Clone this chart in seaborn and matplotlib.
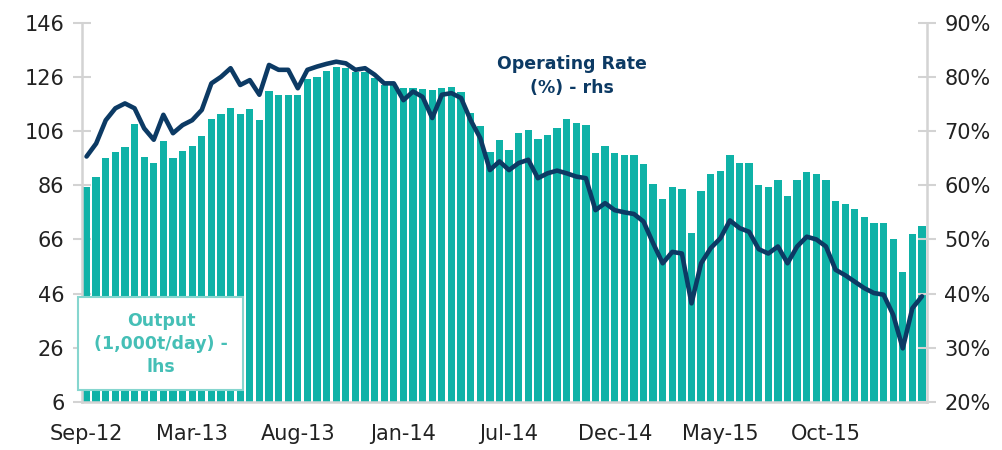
import pandas as pd
import numpy as np
import matplotlib
matplotlib.use('Agg')
import matplotlib.pyplot as plt
import seaborn as sns

# output, 1,000t/day (lhs) - 88 periods from Sep-12
output = [85.5, 89.0, 96.1, 98.4, 100.0, 108.6, 96.6, 94.3, 102.5, 96.1,
          98.7, 100.5, 104.2, 110.5, 112.3, 114.4, 112.3, 114.0, 110.1, 120.9,
          119.3, 119.3, 119.3, 125.2, 125.8, 128.3, 129.8, 129.2, 127.9, 127.9,
          125.5, 123.0, 123.0, 121.8, 121.8, 121.4, 121.0, 121.8, 122.2, 120.5,
          112.6, 107.9, 98.4, 102.7, 99.0, 105.2, 106.4, 103.0, 104.6, 107.0,
          110.3, 108.9, 108.3, 97.8, 100.6, 97.8, 97.2, 97.2, 93.9, 86.4,
          80.8, 85.3, 84.5, 68.3, 84.0, 90.2, 91.4, 97.2, 94.1, 94.1,
          86.2, 85.5, 88.0, 82.1, 88.0, 91.0, 90.2, 88.0, 80.2, 79.1,
          77.1, 74.2, 72.0, 72.0, 66.1, 54.1, 68.0, 71.0]

# operating rate, % (rhs)
rate = [65.3, 67.7, 72.0, 74.2, 75.1, 74.2, 70.5, 68.4, 73.0, 69.6,
        71.1, 72.0, 73.9, 78.8, 80.0, 81.6, 78.5, 79.4, 76.7, 82.2,
        81.3, 81.3, 77.9, 81.3, 81.9, 82.4, 82.8, 82.5, 81.3, 81.6,
        80.4, 78.8, 78.8, 75.7, 77.3, 76.3, 72.4, 76.7, 77.0, 76.1,
        72.0, 68.7, 62.8, 64.4, 62.8, 64.1, 64.7, 61.3, 62.2, 62.7,
        62.2, 61.6, 61.3, 55.4, 56.7, 55.4, 55.0, 54.7, 53.3, 49.3,
        45.6, 47.7, 47.4, 38.2, 45.6, 48.4, 50.2, 53.5, 52.1, 51.4,
        48.2, 47.4, 48.7, 45.6, 48.7, 50.5, 50.0, 48.7, 44.4, 43.4,
        42.2, 41.0, 40.1, 39.8, 36.1, 29.9, 37.3, 39.5]

tick_labels = ['Sep-12', 'Mar-13', 'Aug-13', 'Jan-14', 'Jul-14',
               'Dec-14', 'May-15', 'Oct-15']

df = pd.DataFrame({'period': np.arange(len(output)),
                   'output': output, 'rate': rate})

teal = '#0FB2A7'
navy = '#0C3A64'
grey = '#D3D3D3'
txt = '#222222'

sns.set_style('white')
plt.rcParams['font.family'] = ['DejaVu Sans']

fig = plt.figure(figsize=(10.03, 4.5), dpi=100)
ax = fig.add_axes([0.0815, 0.1067, 0.8425, 0.8429])

sns.barplot(data=df, x='period', y='output', color=teal, width=0.76,
            saturation=1, linewidth=0, ax=ax)
ax.set_ylim(6, 146)
ax.set_yticks(np.arange(6, 147, 20))
ax.set_xlim(-0.5, len(output) - 0.5)
ax.set_xlabel('')
ax.set_ylabel('')

# ticks on group boundaries, labels under first category of each group
ax.set_xticks(np.arange(-0.5, len(output), 11))
ax.set_xticklabels([])
ax.set_xticks(np.arange(0, 78, 11), minor=True)
ax.set_xticklabels(tick_labels, minor=True)
ax.tick_params(axis='x', which='major', direction='out', length=7,
               width=1.5, color=grey)
ax.tick_params(axis='x', which='minor', length=0, pad=16, labelsize=15,
               labelcolor=txt)
ax.tick_params(axis='y', direction='inout', length=13, width=1.5,
               color=grey, labelsize=15, labelcolor=txt, pad=6)

ax2 = ax.twinx()
sns.lineplot(data=df, x='period', y='rate', color=navy, linewidth=3.3,
             solid_joinstyle='round', solid_capstyle='round', ax=ax2)
ax2.set_ylim(20, 90)
ax2.set_yticks(np.arange(20, 91, 10))
ax2.set_yticklabels([f'{v}%' for v in range(20, 91, 10)])
ax2.set_ylabel('')
ax2.set_xlim(-0.5, len(output) - 0.5)
ax2.tick_params(axis='y', direction='inout', length=13, width=1.5,
                color=grey, labelsize=15, labelcolor=txt, pad=6)

for a in (ax, ax2):
    a.spines['top'].set_visible(False)
    for side in ['left', 'right', 'bottom']:
        a.spines[side].set_color(grey)
        a.spines[side].set_linewidth(1.8)
ax.spines['right'].set_visible(False)
ax2.spines['left'].set_visible(False)
ax2.spines['bottom'].set_visible(False)

fig.text(572 / 1003, 1 - 76 / 450, 'Operating Rate\n(%) - rhs', ha='center',
         va='center', color=navy, fontsize=12.5, fontweight='bold',
         linespacing=1.45)

# white label box over the bars
box = plt.Rectangle((78 / 1003, 1 - 390 / 450), 165 / 1003, 93 / 450,
                    transform=fig.transFigure, facecolor='white',
                    edgecolor='#86D6CF', linewidth=1.5, zorder=9)
fig.patches.append(box)
fig.text(161 / 1003, 1 - 344 / 450, 'Output\n(1,000t/day) -\nlhs',
         ha='center', va='center', color='#45BFB6', fontsize=12.5,
         fontweight='bold', linespacing=1.35, zorder=10)

fig.savefig('out.png', dpi=100)
